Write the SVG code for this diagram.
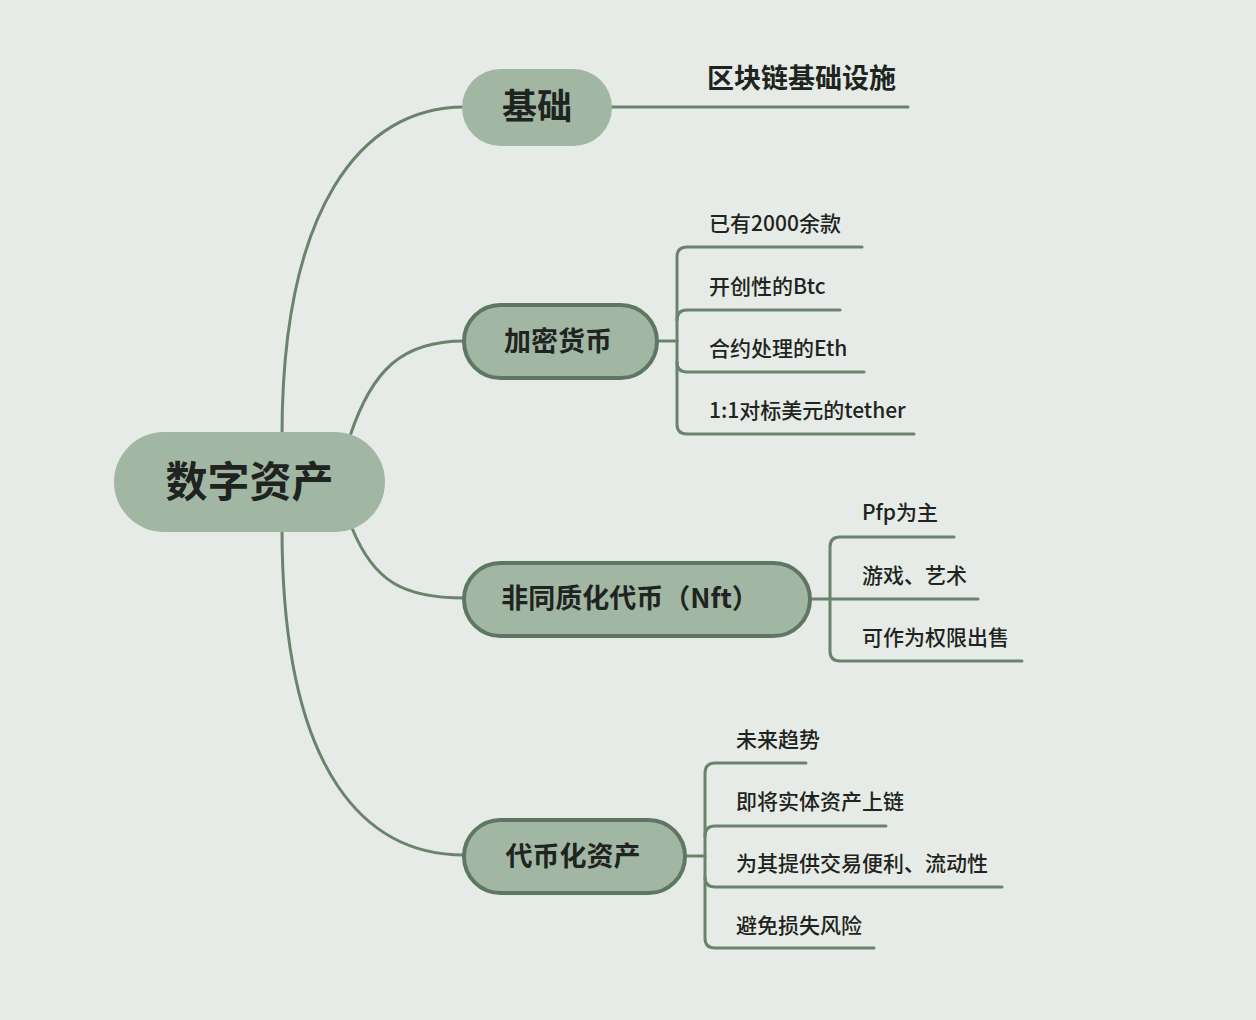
<svg xmlns="http://www.w3.org/2000/svg" width="1256" height="1020" viewBox="0 0 1256 1020">
  <style>
    .bg { fill: #e6ebe7; }
    .link { fill: none; stroke: #6b836e; stroke-width: 3; stroke-linecap: round; }
    .pill { fill: #a2b6a4; }
    .pill-b { fill: #a2b6a4; stroke: #5f7762; stroke-width: 4; }
    .t { font-family: "Noto Sans CJK SC", "Noto Sans", sans-serif; fill: #1f2420; }
    .root-t { font-size: 42px; font-weight: bold; }
    .main-t { font-size: 27px; font-weight: bold; }
    .leaf-t { font-size: 21px; font-weight: 500; }
  </style>
  <rect class="bg" x="0" y="0" width="1256" height="1020"/>

  <!-- connectors -->
  <g id="connectors">
    <!-- root to main topics -->
    <path class="link" d="M 282 436 C 282 210, 360 107, 464 107"/>
    <path class="link" d="M 350 436 C 372 370, 402 341, 464 341"/>
    <path class="link" d="M 352 528 C 374 582, 404 598, 464 598"/>
    <path class="link" d="M 282 528 C 282 780, 370 855, 464 855"/>

    <!-- 基础 -->
    <path class="link" d="M 610 107 H 908"/>

    <!-- 加密货币 -->
    <path class="link" d="M 657 341 H 677"/>
    <path class="link" d="M 677 341 V 257 Q 677 247 687 247 H 862"/>
    <path class="link" d="M 677 320 Q 677 310 687 310 H 840"/>
    <path class="link" d="M 677 362 Q 677 372 687 372 H 864"/>
    <path class="link" d="M 677 341 V 424 Q 677 434 687 434 H 914"/>

    <!-- 非同质化代币 -->
    <path class="link" d="M 810 599 H 830"/>
    <path class="link" d="M 830 599 V 547 Q 830 537 840 537 H 954"/>
    <path class="link" d="M 830 599 H 978"/>
    <path class="link" d="M 830 599 V 651 Q 830 661 840 661 H 1022"/>

    <!-- 代币化资产 -->
    <path class="link" d="M 685 856 H 705"/>
    <path class="link" d="M 705 856 V 773 Q 705 763 715 763 H 806"/>
    <path class="link" d="M 705 836 Q 705 826 715 826 H 886"/>
    <path class="link" d="M 705 877 Q 705 887 715 887 H 1002"/>
    <path class="link" d="M 705 856 V 938 Q 705 948 715 948 H 874"/>
  </g>

  <!-- central topic -->
  <g id="root">
    <rect class="pill" x="114" y="432" width="271" height="100" rx="50"/>
    <text class="t root-t" x="249.5" y="497" text-anchor="middle">数字资产</text>
  </g>

  <g id="jichu">
    <rect class="pill" x="462" y="69" width="150" height="77" rx="38.5"/>
    <text class="t" x="537" y="119" text-anchor="middle" font-size="35" font-weight="bold">基础</text>
  </g>
  <g id="jichu-leaf">
    <text class="t" x="707" y="88" font-size="27" font-weight="bold">区块链基础设施</text>
  </g>

  <g id="crypto">
    <rect class="pill-b" x="464" y="305" width="193" height="73" rx="36.5"/>
    <text class="t main-t" x="558" y="351" text-anchor="middle">加密货币</text>
  </g>
  <g id="crypto-leaves">
    <text class="t leaf-t" x="709" y="231">已有2000余款</text>
    <text class="t leaf-t" x="709" y="294">开创性的Btc</text>
    <text class="t leaf-t" x="709" y="356">合约处理的Eth</text>
    <text class="t leaf-t" x="709" y="418">1:1对标美元的tether</text>
  </g>

  <g id="nft">
    <rect class="pill-b" x="464" y="563" width="346" height="73" rx="36.5"/>
    <text class="t main-t" x="630" y="608" text-anchor="middle">非同质化代币（Nft）</text>
  </g>
  <g id="nft-leaves">
    <text class="t leaf-t" x="862" y="520">Pfp为主</text>
    <text class="t leaf-t" x="862" y="583">游戏、艺术</text>
    <text class="t leaf-t" x="862" y="645">可作为权限出售</text>
  </g>

  <g id="tokenized">
    <rect class="pill-b" x="464" y="820" width="221" height="73" rx="36.5"/>
    <text class="t main-t" x="573" y="866" text-anchor="middle">代币化资产</text>
  </g>
  <g id="tokenized-leaves">
    <text class="t leaf-t" x="736" y="747">未来趋势</text>
    <text class="t leaf-t" x="736" y="809">即将实体资产上链</text>
    <text class="t leaf-t" x="736" y="871">为其提供交易便利、流动性</text>
    <text class="t leaf-t" x="736" y="933">避免损失风险</text>
  </g>
</svg>
